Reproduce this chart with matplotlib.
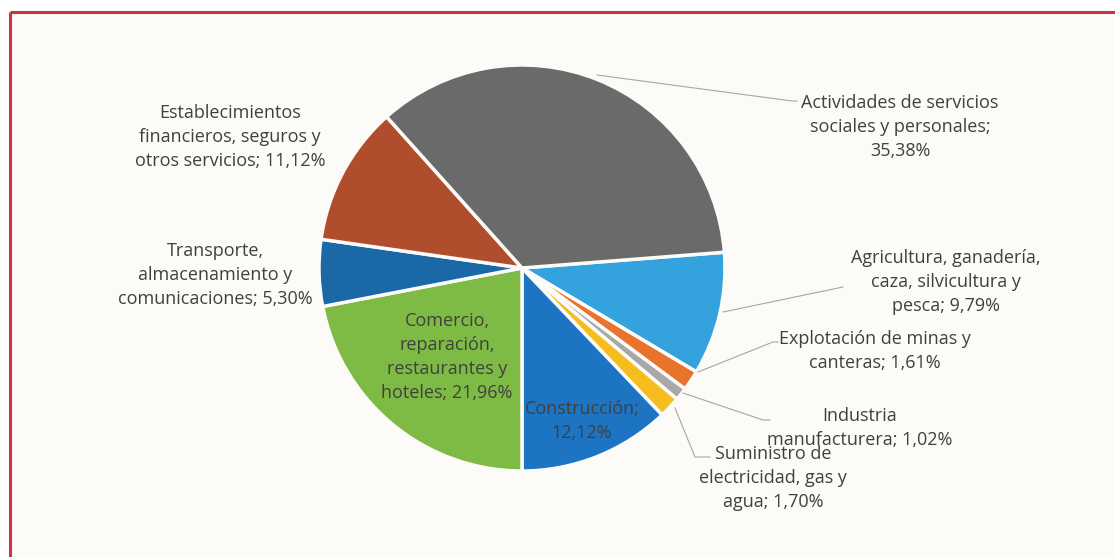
import matplotlib.pyplot as plt
from matplotlib.patches import Rectangle

# -------- data (shares of employment by sector, %) --------
sectors = [
    "Agricultura, ganadería,\ncaza, silvicultura y\npesca",
    "Explotación de minas y\ncanteras",
    "Industria\nmanufacturera",
    "Suministro de\nelectricidad, gas y\nagua",
    "Construcción;\n",
    "Comercio,\nreparación,\nrestaurantes y\nhoteles",
    "Transporte,\nalmacenamiento y\ncomunicaciones",
    "Establecimientos\nfinancieros, seguros y\notros servicios",
    "Actividades de servicios\nsociales y personales;\n",
]
shares = [9.79, 1.61, 1.02, 1.70, 12.12, 21.96, 5.30, 11.12, 35.38]
colors = ["#34a2dd", "#e8732c", "#a8a8a8", "#f6bd1e", "#1c74c2",
          "#7dbb45", "#1b68a6", "#b04d2d", "#6a6a6a"]

W, H = 1115, 557


def fy(y):
    # pixel row (from top) -> data y
    return H - y


fig = plt.figure(figsize=(11.15, 5.57), dpi=100)
fig.patch.set_facecolor("white")
ax = fig.add_axes([0, 0, 1, 1])

# background panel + red frame
ax.add_patch(Rectangle((9.5, 0), W, fy(11.5), facecolor="#fcfbf8",
                       edgecolor="none", zorder=0))
ax.plot([9.5, 9.5], [0, fy(11.5)], color="#d0323f", lw=2.2, zorder=1,
        solid_capstyle="butt")
ax.plot([9.5, W], [fy(11.5), fy(11.5)], color="#d0323f", lw=2.2, zorder=1,
        solid_capstyle="butt")

# pie
ax.pie(shares, colors=colors, startangle=4.46, counterclock=False,
       center=(522, fy(268)), radius=203,
       wedgeprops=dict(edgecolor="#fcfbf8", linewidth=2.5))

ax.set_xlim(0, W)
ax.set_ylim(0, H)
ax.set_aspect("equal")
ax.axis("off")


def pct(v):
    return f"{v:.2f}".replace(".", ",") + "%"


def lab(i):
    name = sectors[i]
    if name.endswith("\n"):
        return name + pct(shares[i])
    return name + "; " + pct(shares[i])


# label positions (pixel coords, center of text block)
label_pos = [(946, 282), (875, 351), (860, 428), (773, 478), (582, 421),
             (447, 357), (215, 275), (230, 137), (900, 127)]

for i, (x, y) in enumerate(label_pos):
    ax.text(x, fy(y), lab(i), ha="center", va="center", fontsize=13,
            family="Open Sans", color="#404040", linespacing=1.42, zorder=5)

# leader lines
leaders = [
    [(723, 312), (843, 287)],
    [(698, 372), (773, 342), (778, 342)],
    [(683, 393), (763, 420), (770, 420)],
    [(675, 408), (695, 457), (710, 457)],
    [(597, 75), (792, 101), (797, 101)],
]
for pts in leaders:
    xs = [p[0] for p in pts]
    ys = [fy(p[1]) for p in pts]
    ax.plot(xs, ys, color="#a6a6a6", lw=0.8, zorder=4)

plt.savefig("out.png", dpi=100)
plt.close()
